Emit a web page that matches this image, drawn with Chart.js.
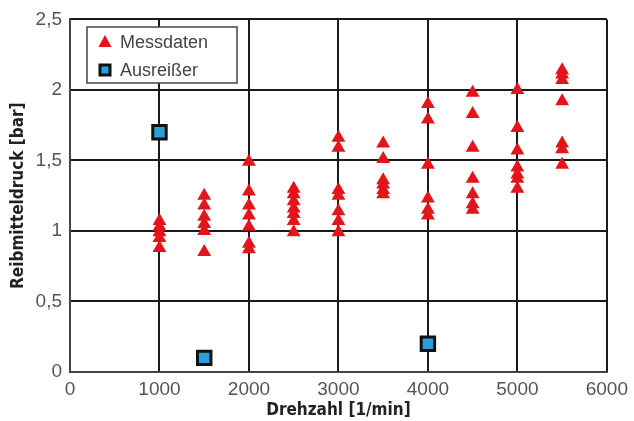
<!DOCTYPE html>
<html>
<head>
<meta charset="utf-8">
<style>
  body { margin: 0; background: #fff; }
  #wrap { width: 634px; height: 421px; }
</style>
<script src="https://cdn.jsdelivr.net/npm/chart.js@4.4.0/dist/chart.umd.min.js"></script>
</head>
<body>
<div id="wrap"><canvas id="chart" width="634" height="421"></canvas></div>
<script>
// Messdaten: Drehzahl-Stufen und zugehoerige Reibmitteldruck-Werte
const speeds = [1000, 1500, 2000, 2500, 3000, 3500, 4000, 4500, 5000, 5500];
const pressures = [
  [1.07, 1.03, 0.99, 0.95, 0.88],
  [1.25, 1.18, 1.10, 1.05, 1.00, 0.85],
  [1.49, 1.28, 1.18, 1.11, 1.03, 0.91, 0.87],
  [1.30, 1.26, 1.21, 1.16, 1.12, 1.07, 0.99],
  [1.66, 1.59, 1.29, 1.25, 1.14, 1.07, 0.99],
  [1.62, 1.51, 1.36, 1.33, 1.29, 1.26],
  [1.90, 1.79, 1.47, 1.23, 1.15, 1.11],
  [1.98, 1.83, 1.59, 1.37, 1.26, 1.19, 1.15],
  [2.00, 1.73, 1.57, 1.45, 1.40, 1.37, 1.30],
  [2.14, 2.11, 2.07, 1.92, 1.62, 1.58, 1.47]
];

// Ausreisser
const outlierSpeeds = [1000, 1500, 4000];
const outlierValues = [1.70, 0.10, 0.20];

const xTicks = [0, 1000, 2000, 3000, 4000, 5000, 6000];
const yTicks = [0, 0.5, 1, 1.5, 2, 2.5];

const measured = [];
speeds.forEach((s, i) => pressures[i].forEach(v => measured.push({ x: s, y: v })));
const outliers = outlierSpeeds.map((s, i) => ({ x: s, y: outlierValues[i] }));

const FONT = "'Liberation Sans', Arial, sans-serif";
const FONT_NARROW = "'Liberation Sans Narrow', 'DejaVu Sans Condensed', Arial, sans-serif";

// legend drawn inside the plot, top-left
const innerLegend = {
  id: 'innerLegend',
  afterDraw(chart) {
    const ctx = chart.ctx;
    const left = 87, top = 27, w = 150, h = 56;
    ctx.save();
    ctx.fillStyle = '#fff';
    ctx.fillRect(left, top, w, h);
    ctx.strokeStyle = '#444';
    ctx.lineWidth = 1.5;
    ctx.strokeRect(left, top, w, h);
    ctx.font = '18px ' + FONT;
    ctx.textBaseline = 'middle';
    chart.data.datasets.forEach((ds, i) => {
      const cy = top + 15 + i * 28;
      const cx = left + 18;
      if (ds.pointStyle === 'triangle') {
        ctx.fillStyle = ds.backgroundColor;
        ctx.beginPath();
        ctx.moveTo(cx, cy - 7);
        ctx.lineTo(cx + 6.5, cy + 5);
        ctx.lineTo(cx - 6.5, cy + 5);
        ctx.closePath();
        ctx.fill();
      } else {
        ctx.fillStyle = ds.backgroundColor;
        ctx.strokeStyle = ds.borderColor;
        ctx.lineWidth = 3;
        ctx.fillRect(cx - 5, cy - 5, 10, 10);
        ctx.strokeRect(cx - 5, cy - 5, 10, 10);
      }
      ctx.fillStyle = '#444';
      ctx.fillText(ds.label, left + 33, cy + 1);
    });
    ctx.restore();
  }
};

new Chart(document.getElementById('chart'), {
  type: 'scatter',
  data: {
    datasets: [
      {
        label: 'Messdaten',
        data: measured,
        pointStyle: 'triangle',
        pointRadius: 8,
        backgroundColor: '#e3141b',
        borderColor: '#e3141b',
        borderWidth: 0
      },
      {
        label: 'Ausreißer',
        data: outliers,
        pointStyle: 'rect',
        pointRadius: 9.5,
        backgroundColor: '#2b9fd8',
        borderColor: '#111',
        borderWidth: 3
      }
    ]
  },
  options: {
    responsive: false,
    animation: false,
    layout: { padding: { top: 17, right: 22, left: 0, bottom: 0 } },
    plugins: {
      legend: { display: false },
      tooltip: { enabled: false }
    },
    scales: {
      x: {
        type: 'linear',
        min: 0,
        max: 6000,
        afterBuildTicks: axis => { axis.ticks = xTicks.map(v => ({ value: v })); },
        afterFit: axis => { axis.height = 49; },
        grid: { color: '#1a1a1a', lineWidth: 2, drawTicks: false },
        border: { color: '#444', width: 2 },
        ticks: {
          color: '#555',
          padding: 6,
          font: { family: FONT, size: 19 },
          maxRotation: 0,
          callback: v => String(v)
        },
        title: {
          display: true,
          text: 'Drehzahl [1/min]',
          color: '#222',
          font: { family: FONT_NARROW, size: 17, weight: 'bold' },
          padding: { top: 0, bottom: 0 }
        }
      },
      y: {
        type: 'linear',
        min: 0,
        max: 2.5,
        afterBuildTicks: axis => { axis.ticks = yTicks.map(v => ({ value: v })); },
        afterFit: axis => { axis.width = 70; },
        grid: { color: '#1a1a1a', lineWidth: 2, drawTicks: false },
        border: { color: '#444', width: 2 },
        ticks: {
          color: '#555',
          padding: 8,
          font: { family: FONT, size: 19 },
          callback: v => String(v).replace('.', ',')
        },
        title: {
          display: true,
          text: 'Reibmitteldruck [bar]',
          color: '#222',
          font: { family: FONT_NARROW, size: 17, weight: 'bold' },
          padding: { top: 8, bottom: 0 }
        }
      }
    }
  },
  plugins: [innerLegend]
});
</script>
</body>
</html>
